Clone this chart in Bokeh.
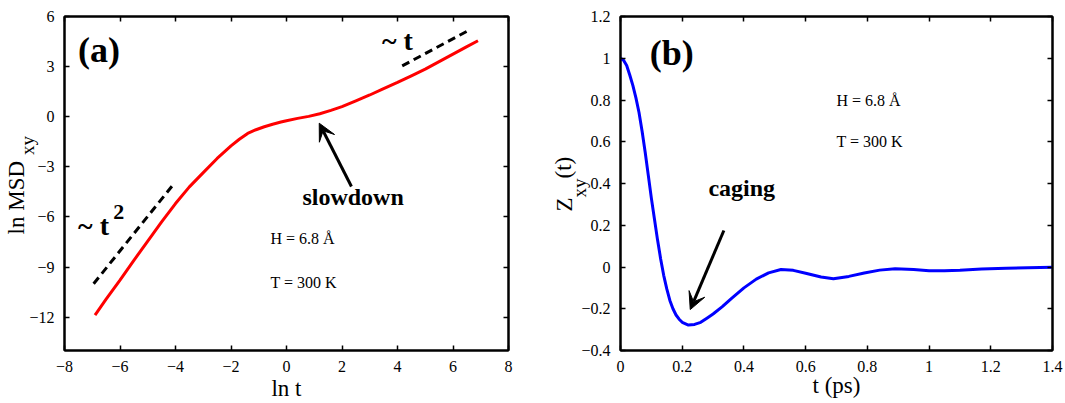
import math
from bokeh.plotting import figure
from bokeh.layouts import row
from bokeh.models import (Label, Arrow, VeeHead, LinearAxis, FixedTicker,
                          CustomJSTickFormatter, Range1d)
from bokeh.embed import file_html
from bokeh.resources import INLINE

# ---------------- data: panel (a) ----------------
ln_t = [-6.9, -6.5, -6.0, -5.5, -5.0, -4.5, -4.0, -3.5, -3.0, -2.5, -2.0, -1.7,
        -1.4, -1.1, -0.8, -0.5, -0.2, 0.0, 0.4, 0.8, 1.2, 1.6, 2.0, 2.5, 3.0,
        3.5, 4.0, 4.5, 5.0, 5.5, 6.0, 6.5, 6.9]
ln_msd = [-11.88, -10.93, -9.78, -8.6, -7.45, -6.3, -5.2, -4.2, -3.35, -2.5,
          -1.75, -1.35, -1.0, -0.78, -0.6, -0.45, -0.32, -0.24, -0.1, 0.02,
          0.18, 0.38, 0.6, 0.95, 1.3, 1.68, 2.05, 2.45, 2.85, 3.3, 3.75, 4.2, 4.55]
guide_t2_x = [-6.95, -4.05]
guide_t2_y = [-10.0, -4.0]
guide_t1_x = [4.17, 6.6]
guide_t1_y = [3.04, 5.2]
a_xticks = [-8, -6, -4, -2, 0, 2, 4, 6, 8]
a_yticks = [-12, -9, -6, -3, 0, 3, 6]

# ---------------- data: panel (b) ----------------
t_ps = [0, 0.01, 0.02, 0.03, 0.04, 0.05, 0.06, 0.07, 0.08, 0.09, 0.10, 0.11,
        0.12, 0.13, 0.14, 0.15, 0.16, 0.17, 0.18, 0.19, 0.20, 0.22, 0.24, 0.26,
        0.28, 0.30, 0.33, 0.36, 0.40, 0.44, 0.48, 0.52, 0.56, 0.60, 0.65, 0.69,
        0.74, 0.79, 0.84, 0.89, 0.95, 1.0, 1.05, 1.1, 1.17, 1.25, 1.32, 1.4]
z_xy = [1.0, 0.99, 0.965, 0.92, 0.87, 0.81, 0.74, 0.65, 0.55, 0.44, 0.33, 0.23,
        0.13, 0.04, -0.04, -0.105, -0.16, -0.2, -0.23, -0.25, -0.265, -0.278,
        -0.275, -0.265, -0.245, -0.225, -0.19, -0.15, -0.1, -0.058, -0.028,
        -0.012, -0.016, -0.03, -0.048, -0.056, -0.045, -0.029, -0.015, -0.008,
        -0.012, -0.018, -0.018, -0.015, -0.01, -0.006, -0.003, -0.001]
b_xticks = [0, 0.2, 0.4, 0.6, 0.8, 1, 1.2, 1.4]
b_yticks = [-0.4, -0.2, 0, 0.2, 0.4, 0.6, 0.8, 1, 1.2]

# axis titles (pieces with subscripts)
a_xtitle = "ln t"
a_ytitle = ["ln MSD"]
a_ytitle_sub = ["xy"]
b_xtitle = "t (ps)"
b_ytitle = ["Z", "(t)"]
b_ytitle_sub = ["xy"]

FONT = "Liberation Serif"
NUM_CODE = "return (tick < 0 ? '\\u2212' : '') + Math.abs(tick).toString();"


def num_axis(ticks, **kw):
    ax = LinearAxis(ticker=FixedTicker(ticks=ticks),
                    formatter=CustomJSTickFormatter(code=NUM_CODE),
                    major_tick_in=5, major_tick_out=0,
                    minor_tick_line_color=None,
                    axis_line_width=2, axis_line_color="black",
                    major_tick_line_width=1.5, major_tick_line_color="black",
                    major_label_text_font=FONT,
                    major_label_text_font_size="16px",
                    major_label_text_color="black",
                    major_label_standoff=10,
                    axis_label_text_font=FONT,
                    axis_label_text_font_size="23px",
                    axis_label_text_font_style="normal",
                    axis_label_text_color="black", **kw)
    return ax


def mirror_axis(ticks):
    return LinearAxis(ticker=FixedTicker(ticks=ticks),
                      formatter=CustomJSTickFormatter(code="return '';"),
                      major_tick_in=5, major_tick_out=0,
                      minor_tick_line_color=None,
                      axis_line_width=2, axis_line_color="black",
                      major_tick_line_width=1.5, major_tick_line_color="black",
                      major_label_standoff=0)


def title_axis(positions, labels, size, standoff):
    # an axis that carries only text pieces of an axis title
    return LinearAxis(ticker=FixedTicker(ticks=positions),
                      formatter=CustomJSTickFormatter(args=dict(labels=labels),
                                                      code="return labels[index];"),
                      axis_line_color=None, major_tick_line_color=None,
                      minor_tick_line_color=None, major_tick_in=0,
                      major_tick_out=0,
                      major_label_orientation="vertical",
                      major_label_text_font=FONT,
                      major_label_text_font_size=size,
                      major_label_text_color="black",
                      major_label_standoff=standoff)


def lab(p, x, y, text, size, bold=False, align="left"):
    p.add_layout(Label(x=x, y=y, text=text, text_font=FONT,
                       text_font_size=size, text_color="black",
                       text_font_style="bold" if bold else "normal",
                       text_align=align, text_baseline="middle"))


def base_fig(w, xr, yr, bl, br, bt, bb):
    p = figure(width=w, height=403, x_range=xr, y_range=yr,
               x_axis_location=None, y_axis_location=None,
               output_backend="svg", toolbar_location=None,
               min_border_left=bl, min_border_right=br, min_border_top=bt,
               min_border_bottom=bb, background_fill_color="white",
               border_fill_color="white")
    p.grid.visible = False
    p.outline_line_color = "black"
    p.outline_line_width = 2
    return p


# ---------------- panel (a) ----------------
pa = base_fig(540, Range1d(-8, 8), Range1d(-14, 6), 64, 32, 16, 53)
pa.add_layout(num_axis(a_xticks, axis_label=a_xtitle, axis_label_standoff=1), "below")
pa.add_layout(num_axis(a_yticks), "left")
pa.add_layout(title_axis([-1.72], a_ytitle_sub, "19px", -12), "left")
pa.add_layout(title_axis([-4.85], a_ytitle, "23px", -15), "left")
pa.add_layout(mirror_axis(a_xticks), "above")
pa.add_layout(mirror_axis(a_yticks), "right")

pa.line(ln_t, ln_msd, line_color="red", line_width=3)
pa.line(guide_t2_x, guide_t2_y, line_color="black", line_width=3, line_dash="8 5")
pa.line(guide_t1_x, guide_t1_y, line_color="black", line_width=3, line_dash="8 5")
pa.add_layout(Arrow(end=VeeHead(size=17, fill_color="black", line_color="black"),
                    x_start=2.34, y_start=-4.18, x_end=1.18, y_end=-0.39,
                    line_width=3, line_color="black"))
lab(pa, -7.51, 4.0, "(a)", "36px", bold=True)
lab(pa, -7.51, -6.5, "~ t", "28px", bold=True)
lab(pa, -6.24, -5.7, "2", "22px", bold=True)
lab(pa, 3.44, 4.56, "~ t", "28px", bold=True)
lab(pa, 2.40, -4.78, "slowdown", "24px", bold=True, align="center")
lab(pa, -0.58, -7.31, "H = 6.8 Å", "16px")
lab(pa, -0.58, -9.93, "T = 300 K", "16px")

# ---------------- panel (b) ----------------
pb = base_fig(525, Range1d(0, 1.4), Range1d(-0.4, 1.2), 80, 13, 16, 50)
pb.add_layout(num_axis(b_xticks, axis_label=b_xtitle, axis_label_standoff=-2), "below")
pb.add_layout(num_axis(b_yticks), "left")
pb.add_layout(title_axis([0.379], b_ytitle_sub, "19px", -12), "left")
pb.add_layout(title_axis([0.30, 0.476], b_ytitle, "23px", -10), "left")
pb.add_layout(mirror_axis(b_xticks), "above")
pb.add_layout(mirror_axis(b_yticks), "right")

pb.line(t_ps, z_xy, line_color="blue", line_width=3)
pb.add_layout(Arrow(end=VeeHead(size=17, fill_color="black", line_color="black"),
                    x_start=0.335, y_start=0.175, x_end=0.226, y_end=-0.204,
                    line_width=3, line_color="black"))
lab(pb, 0.095, 1.026, "(b)", "36px", bold=True)
lab(pb, 0.70, 0.797, "H = 6.8 Å", "16px")
lab(pb, 0.70, 0.60, "T = 300 K", "16px")
lab(pb, 0.393, 0.378, "caging", "24px", bold=True, align="center")

layout = row(pa, pb)
open("out.html", "w").write(file_html(layout, INLINE))
